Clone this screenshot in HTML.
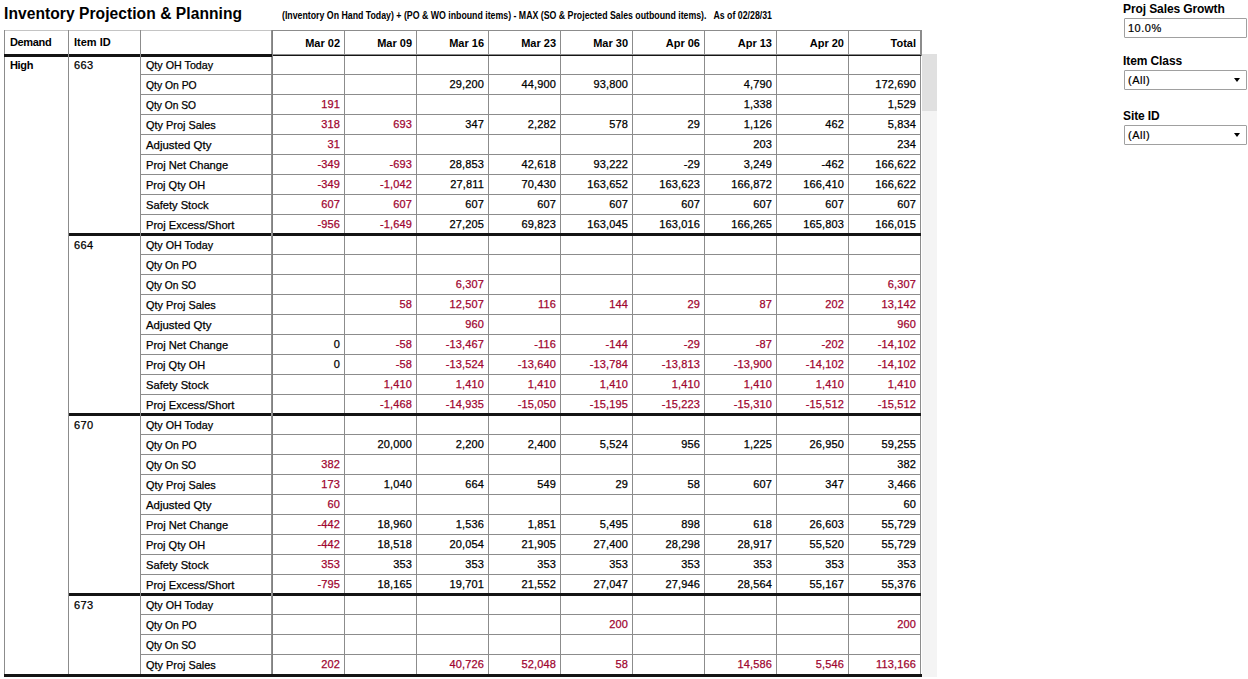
<!DOCTYPE html>
<html><head><meta charset="utf-8"><title>Inventory Projection &amp; Planning</title>
<style>
*{margin:0;padding:0;box-sizing:border-box}
html,body{width:1248px;height:679px;overflow:hidden;background:#fff}
body{position:relative;font-family:"Liberation Sans",Arial,sans-serif;color:#000}
i{position:absolute;display:block}
div{position:absolute;white-space:nowrap}
.title{left:4px;top:3px;font-size:15.6px;font-weight:bold;line-height:22px;letter-spacing:0.05px;color:#000}
.sub{left:282px;top:9px;font-size:10px;font-weight:bold;line-height:14px;color:#000;transform-origin:0 0;transform:scaleX(0.877)}
.hb{font-size:11px;font-weight:bold;line-height:23px;color:#000}
.rl{font-size:11px;line-height:19px;color:#000;-webkit-text-stroke:0.25px currentColor}
.hb2{font-weight:bold;-webkit-text-stroke:0}
.lb{letter-spacing:-0.15px}
.ns{letter-spacing:-0.35px}
.id{letter-spacing:0.4px}
.d,.dr{font-size:11px;line-height:19px;color:#000;letter-spacing:0.15px;-webkit-text-stroke:0.25px currentColor}
.dr{color:#a00530}
.flab{left:1123px;font-size:12px;font-weight:bold;line-height:16px;color:#000;letter-spacing:-0.1px}
.box{left:1124px;width:123px;height:20px;border:1px solid #a0a0a0;border-radius:1px;background:#fff;font-size:11px;line-height:18px;padding-left:3px;color:#000;letter-spacing:0.5px;-webkit-text-stroke:0.2px #000}
.arr{position:absolute;right:6px;top:7px;width:0;height:0;border-left:3.5px solid transparent;border-right:3.5px solid transparent;border-top:4px solid #000}
</style></head><body>
<div class="title">Inventory Projection &amp; Planning</div>
<div class="sub">(Inventory On Hand Today) + (PO &amp; WO inbound items) - MAX (SO &amp; Projected Sales outbound items).&nbsp;&nbsp; As of 02/28/31</div>
<i style="left:344px;top:30px;width:1px;height:644px;background:#8c8c8c"></i><i style="left:416px;top:30px;width:1px;height:644px;background:#8c8c8c"></i><i style="left:488px;top:30px;width:1px;height:644px;background:#8c8c8c"></i><i style="left:560px;top:30px;width:1px;height:644px;background:#8c8c8c"></i><i style="left:632px;top:30px;width:1px;height:644px;background:#8c8c8c"></i><i style="left:704px;top:30px;width:1px;height:644px;background:#8c8c8c"></i><i style="left:776px;top:30px;width:1px;height:644px;background:#8c8c8c"></i><i style="left:848px;top:30px;width:1px;height:644px;background:#8c8c8c"></i><i style="left:920px;top:56px;width:1px;height:618px;background:#8c8c8c"></i><i style="left:920px;top:30px;width:2px;height:26px;background:#8c8c8c"></i><i style="left:4px;top:30px;width:267px;height:1px;background:#c4c4c4"></i><i style="left:271px;top:30px;width:651px;height:1px;background:#8c8c8c"></i><i style="left:273px;top:54px;width:648px;height:1px;background:#8c8c8c"></i><i style="left:273px;top:55px;width:648px;height:1px;background:#151515"></i><i style="left:141px;top:74px;width:779px;height:1px;background:#8c8c8c"></i><i style="left:141px;top:94px;width:779px;height:1px;background:#8c8c8c"></i><i style="left:141px;top:114px;width:779px;height:1px;background:#8c8c8c"></i><i style="left:141px;top:134px;width:779px;height:1px;background:#8c8c8c"></i><i style="left:141px;top:154px;width:779px;height:1px;background:#8c8c8c"></i><i style="left:141px;top:174px;width:779px;height:1px;background:#8c8c8c"></i><i style="left:141px;top:194px;width:779px;height:1px;background:#8c8c8c"></i><i style="left:141px;top:214px;width:779px;height:1px;background:#8c8c8c"></i><i style="left:69px;top:233px;width:852px;height:3px;background:#141414"></i><i style="left:141px;top:254px;width:779px;height:1px;background:#8c8c8c"></i><i style="left:141px;top:274px;width:779px;height:1px;background:#8c8c8c"></i><i style="left:141px;top:294px;width:779px;height:1px;background:#8c8c8c"></i><i style="left:141px;top:314px;width:779px;height:1px;background:#8c8c8c"></i><i style="left:141px;top:334px;width:779px;height:1px;background:#8c8c8c"></i><i style="left:141px;top:354px;width:779px;height:1px;background:#8c8c8c"></i><i style="left:141px;top:374px;width:779px;height:1px;background:#8c8c8c"></i><i style="left:141px;top:394px;width:779px;height:1px;background:#8c8c8c"></i><i style="left:69px;top:413px;width:852px;height:3px;background:#141414"></i><i style="left:141px;top:434px;width:779px;height:1px;background:#8c8c8c"></i><i style="left:141px;top:454px;width:779px;height:1px;background:#8c8c8c"></i><i style="left:141px;top:474px;width:779px;height:1px;background:#8c8c8c"></i><i style="left:141px;top:494px;width:779px;height:1px;background:#8c8c8c"></i><i style="left:141px;top:514px;width:779px;height:1px;background:#8c8c8c"></i><i style="left:141px;top:534px;width:779px;height:1px;background:#8c8c8c"></i><i style="left:141px;top:554px;width:779px;height:1px;background:#8c8c8c"></i><i style="left:141px;top:574px;width:779px;height:1px;background:#8c8c8c"></i><i style="left:69px;top:593px;width:852px;height:3px;background:#141414"></i><i style="left:141px;top:614px;width:779px;height:1px;background:#8c8c8c"></i><i style="left:141px;top:634px;width:779px;height:1px;background:#8c8c8c"></i><i style="left:141px;top:654px;width:779px;height:1px;background:#8c8c8c"></i><i style="left:4px;top:54px;width:268px;height:3px;background:#141414"></i><i style="left:4px;top:30px;width:1px;height:644px;background:#8c8c8c"></i><i style="left:68px;top:30px;width:1px;height:644px;background:#8c8c8c"></i><i style="left:140px;top:30px;width:1px;height:644px;background:#8c8c8c"></i><i style="left:271px;top:30px;width:1px;height:644px;background:#909090"></i><i style="left:272px;top:30px;width:1px;height:644px;background:#808080"></i><i style="left:271px;top:54px;width:1px;height:3px;background:#141414"></i><i style="left:4px;top:54px;width:1px;height:3px;background:#141414"></i><i style="left:4px;top:674px;width:918px;height:3px;background:#141414"></i><i style="left:922px;top:54px;width:15px;height:623px;background:#f4f4f4"></i><i style="left:922px;top:54px;width:15px;height:57px;background:#e0e0e0"></i>
<div class="hb ns" style="left:10px;top:31px;width:60px;height:23px;text-align:left">Demand</div><div class="hb" style="left:74px;top:31px;width:70px;height:23px;text-align:left">Item ID</div><div class="hb" style="left:272px;top:32px;width:68px;height:23px;text-align:right">Mar 02</div><div class="hb" style="left:344px;top:32px;width:68px;height:23px;text-align:right">Mar 09</div><div class="hb" style="left:416px;top:32px;width:68px;height:23px;text-align:right">Mar 16</div><div class="hb" style="left:488px;top:32px;width:68px;height:23px;text-align:right">Mar 23</div><div class="hb" style="left:560px;top:32px;width:68px;height:23px;text-align:right">Mar 30</div><div class="hb" style="left:632px;top:32px;width:68px;height:23px;text-align:right">Apr 06</div><div class="hb" style="left:704px;top:32px;width:68px;height:23px;text-align:right">Apr 13</div><div class="hb" style="left:776px;top:32px;width:68px;height:23px;text-align:right">Apr 20</div><div class="hb" style="left:848px;top:32px;width:68px;height:23px;text-align:right">Total</div><div class="rl id" style="left:74px;top:56px;width:60px;height:17px;text-align:left">663</div><div class="rl" style="left:146px;top:56px;width:120px;height:19px;text-align:left"><span style="display:inline-block;transform-origin:0 50%;transform:scaleX(0.975)">Qty OH Today</span></div><div class="rl" style="left:146px;top:76px;width:120px;height:19px;text-align:left"><span style="display:inline-block;transform-origin:0 50%;transform:scaleX(0.941)">Qty On PO</span></div><div class="d" style="left:416px;top:75px;width:68px;height:19px;text-align:right">29,200</div><div class="d" style="left:488px;top:75px;width:68px;height:19px;text-align:right">44,900</div><div class="d" style="left:560px;top:75px;width:68px;height:19px;text-align:right">93,800</div><div class="d" style="left:704px;top:75px;width:68px;height:19px;text-align:right">4,790</div><div class="d" style="left:848px;top:75px;width:68px;height:19px;text-align:right">172,690</div><div class="rl" style="left:146px;top:96px;width:120px;height:19px;text-align:left"><span style="display:inline-block;transform-origin:0 50%;transform:scaleX(0.931)">Qty On SO</span></div><div class="dr" style="left:272px;top:95px;width:68px;height:19px;text-align:right">191</div><div class="d" style="left:704px;top:95px;width:68px;height:19px;text-align:right">1,338</div><div class="d" style="left:848px;top:95px;width:68px;height:19px;text-align:right">1,529</div><div class="rl" style="left:146px;top:116px;width:120px;height:19px;text-align:left"><span style="display:inline-block;transform-origin:0 50%;transform:scaleX(0.991)">Qty Proj Sales</span></div><div class="dr" style="left:272px;top:115px;width:68px;height:19px;text-align:right">318</div><div class="dr" style="left:344px;top:115px;width:68px;height:19px;text-align:right">693</div><div class="d" style="left:416px;top:115px;width:68px;height:19px;text-align:right">347</div><div class="d" style="left:488px;top:115px;width:68px;height:19px;text-align:right">2,282</div><div class="d" style="left:560px;top:115px;width:68px;height:19px;text-align:right">578</div><div class="d" style="left:632px;top:115px;width:68px;height:19px;text-align:right">29</div><div class="d" style="left:704px;top:115px;width:68px;height:19px;text-align:right">1,126</div><div class="d" style="left:776px;top:115px;width:68px;height:19px;text-align:right">462</div><div class="d" style="left:848px;top:115px;width:68px;height:19px;text-align:right">5,834</div><div class="rl" style="left:146px;top:136px;width:120px;height:19px;text-align:left"><span style="display:inline-block;transform-origin:0 50%;transform:scaleX(1.038)">Adjusted Qty</span></div><div class="dr" style="left:272px;top:135px;width:68px;height:19px;text-align:right">31</div><div class="d" style="left:704px;top:135px;width:68px;height:19px;text-align:right">203</div><div class="d" style="left:848px;top:135px;width:68px;height:19px;text-align:right">234</div><div class="rl" style="left:146px;top:156px;width:120px;height:19px;text-align:left"><span style="display:inline-block;transform-origin:0 50%;transform:scaleX(1.01)">Proj Net Change</span></div><div class="dr" style="left:272px;top:155px;width:68px;height:19px;text-align:right">-349</div><div class="dr" style="left:344px;top:155px;width:68px;height:19px;text-align:right">-693</div><div class="d" style="left:416px;top:155px;width:68px;height:19px;text-align:right">28,853</div><div class="d" style="left:488px;top:155px;width:68px;height:19px;text-align:right">42,618</div><div class="d" style="left:560px;top:155px;width:68px;height:19px;text-align:right">93,222</div><div class="d" style="left:632px;top:155px;width:68px;height:19px;text-align:right">-29</div><div class="d" style="left:704px;top:155px;width:68px;height:19px;text-align:right">3,249</div><div class="d" style="left:776px;top:155px;width:68px;height:19px;text-align:right">-462</div><div class="d" style="left:848px;top:155px;width:68px;height:19px;text-align:right">166,622</div><div class="rl" style="left:146px;top:176px;width:120px;height:19px;text-align:left"><span style="display:inline-block;transform-origin:0 50%;transform:scaleX(1.0)">Proj Qty OH</span></div><div class="dr" style="left:272px;top:175px;width:68px;height:19px;text-align:right">-349</div><div class="dr" style="left:344px;top:175px;width:68px;height:19px;text-align:right">-1,042</div><div class="d" style="left:416px;top:175px;width:68px;height:19px;text-align:right">27,811</div><div class="d" style="left:488px;top:175px;width:68px;height:19px;text-align:right">70,430</div><div class="d" style="left:560px;top:175px;width:68px;height:19px;text-align:right">163,652</div><div class="d" style="left:632px;top:175px;width:68px;height:19px;text-align:right">163,623</div><div class="d" style="left:704px;top:175px;width:68px;height:19px;text-align:right">166,872</div><div class="d" style="left:776px;top:175px;width:68px;height:19px;text-align:right">166,410</div><div class="d" style="left:848px;top:175px;width:68px;height:19px;text-align:right">166,622</div><div class="rl" style="left:146px;top:196px;width:120px;height:19px;text-align:left"><span style="display:inline-block;transform-origin:0 50%;transform:scaleX(1.013)">Safety Stock</span></div><div class="dr" style="left:272px;top:195px;width:68px;height:19px;text-align:right">607</div><div class="dr" style="left:344px;top:195px;width:68px;height:19px;text-align:right">607</div><div class="d" style="left:416px;top:195px;width:68px;height:19px;text-align:right">607</div><div class="d" style="left:488px;top:195px;width:68px;height:19px;text-align:right">607</div><div class="d" style="left:560px;top:195px;width:68px;height:19px;text-align:right">607</div><div class="d" style="left:632px;top:195px;width:68px;height:19px;text-align:right">607</div><div class="d" style="left:704px;top:195px;width:68px;height:19px;text-align:right">607</div><div class="d" style="left:776px;top:195px;width:68px;height:19px;text-align:right">607</div><div class="d" style="left:848px;top:195px;width:68px;height:19px;text-align:right">607</div><div class="rl" style="left:146px;top:216px;width:120px;height:19px;text-align:left"><span style="display:inline-block;transform-origin:0 50%;transform:scaleX(1.011)">Proj Excess/Short</span></div><div class="dr" style="left:272px;top:215px;width:68px;height:19px;text-align:right">-956</div><div class="dr" style="left:344px;top:215px;width:68px;height:19px;text-align:right">-1,649</div><div class="d" style="left:416px;top:215px;width:68px;height:19px;text-align:right">27,205</div><div class="d" style="left:488px;top:215px;width:68px;height:19px;text-align:right">69,823</div><div class="d" style="left:560px;top:215px;width:68px;height:19px;text-align:right">163,045</div><div class="d" style="left:632px;top:215px;width:68px;height:19px;text-align:right">163,016</div><div class="d" style="left:704px;top:215px;width:68px;height:19px;text-align:right">166,265</div><div class="d" style="left:776px;top:215px;width:68px;height:19px;text-align:right">165,803</div><div class="d" style="left:848px;top:215px;width:68px;height:19px;text-align:right">166,015</div><div class="rl id" style="left:74px;top:236px;width:60px;height:17px;text-align:left">664</div><div class="rl" style="left:146px;top:236px;width:120px;height:19px;text-align:left"><span style="display:inline-block;transform-origin:0 50%;transform:scaleX(0.975)">Qty OH Today</span></div><div class="rl" style="left:146px;top:256px;width:120px;height:19px;text-align:left"><span style="display:inline-block;transform-origin:0 50%;transform:scaleX(0.941)">Qty On PO</span></div><div class="rl" style="left:146px;top:276px;width:120px;height:19px;text-align:left"><span style="display:inline-block;transform-origin:0 50%;transform:scaleX(0.931)">Qty On SO</span></div><div class="dr" style="left:416px;top:275px;width:68px;height:19px;text-align:right">6,307</div><div class="dr" style="left:848px;top:275px;width:68px;height:19px;text-align:right">6,307</div><div class="rl" style="left:146px;top:296px;width:120px;height:19px;text-align:left"><span style="display:inline-block;transform-origin:0 50%;transform:scaleX(0.991)">Qty Proj Sales</span></div><div class="dr" style="left:344px;top:295px;width:68px;height:19px;text-align:right">58</div><div class="dr" style="left:416px;top:295px;width:68px;height:19px;text-align:right">12,507</div><div class="dr" style="left:488px;top:295px;width:68px;height:19px;text-align:right">116</div><div class="dr" style="left:560px;top:295px;width:68px;height:19px;text-align:right">144</div><div class="dr" style="left:632px;top:295px;width:68px;height:19px;text-align:right">29</div><div class="dr" style="left:704px;top:295px;width:68px;height:19px;text-align:right">87</div><div class="dr" style="left:776px;top:295px;width:68px;height:19px;text-align:right">202</div><div class="dr" style="left:848px;top:295px;width:68px;height:19px;text-align:right">13,142</div><div class="rl" style="left:146px;top:316px;width:120px;height:19px;text-align:left"><span style="display:inline-block;transform-origin:0 50%;transform:scaleX(1.038)">Adjusted Qty</span></div><div class="dr" style="left:416px;top:315px;width:68px;height:19px;text-align:right">960</div><div class="dr" style="left:848px;top:315px;width:68px;height:19px;text-align:right">960</div><div class="rl" style="left:146px;top:336px;width:120px;height:19px;text-align:left"><span style="display:inline-block;transform-origin:0 50%;transform:scaleX(1.01)">Proj Net Change</span></div><div class="d" style="left:272px;top:335px;width:68px;height:19px;text-align:right">0</div><div class="dr" style="left:344px;top:335px;width:68px;height:19px;text-align:right">-58</div><div class="dr" style="left:416px;top:335px;width:68px;height:19px;text-align:right">-13,467</div><div class="dr" style="left:488px;top:335px;width:68px;height:19px;text-align:right">-116</div><div class="dr" style="left:560px;top:335px;width:68px;height:19px;text-align:right">-144</div><div class="dr" style="left:632px;top:335px;width:68px;height:19px;text-align:right">-29</div><div class="dr" style="left:704px;top:335px;width:68px;height:19px;text-align:right">-87</div><div class="dr" style="left:776px;top:335px;width:68px;height:19px;text-align:right">-202</div><div class="dr" style="left:848px;top:335px;width:68px;height:19px;text-align:right">-14,102</div><div class="rl" style="left:146px;top:356px;width:120px;height:19px;text-align:left"><span style="display:inline-block;transform-origin:0 50%;transform:scaleX(1.0)">Proj Qty OH</span></div><div class="d" style="left:272px;top:355px;width:68px;height:19px;text-align:right">0</div><div class="dr" style="left:344px;top:355px;width:68px;height:19px;text-align:right">-58</div><div class="dr" style="left:416px;top:355px;width:68px;height:19px;text-align:right">-13,524</div><div class="dr" style="left:488px;top:355px;width:68px;height:19px;text-align:right">-13,640</div><div class="dr" style="left:560px;top:355px;width:68px;height:19px;text-align:right">-13,784</div><div class="dr" style="left:632px;top:355px;width:68px;height:19px;text-align:right">-13,813</div><div class="dr" style="left:704px;top:355px;width:68px;height:19px;text-align:right">-13,900</div><div class="dr" style="left:776px;top:355px;width:68px;height:19px;text-align:right">-14,102</div><div class="dr" style="left:848px;top:355px;width:68px;height:19px;text-align:right">-14,102</div><div class="rl" style="left:146px;top:376px;width:120px;height:19px;text-align:left"><span style="display:inline-block;transform-origin:0 50%;transform:scaleX(1.013)">Safety Stock</span></div><div class="dr" style="left:344px;top:375px;width:68px;height:19px;text-align:right">1,410</div><div class="dr" style="left:416px;top:375px;width:68px;height:19px;text-align:right">1,410</div><div class="dr" style="left:488px;top:375px;width:68px;height:19px;text-align:right">1,410</div><div class="dr" style="left:560px;top:375px;width:68px;height:19px;text-align:right">1,410</div><div class="dr" style="left:632px;top:375px;width:68px;height:19px;text-align:right">1,410</div><div class="dr" style="left:704px;top:375px;width:68px;height:19px;text-align:right">1,410</div><div class="dr" style="left:776px;top:375px;width:68px;height:19px;text-align:right">1,410</div><div class="dr" style="left:848px;top:375px;width:68px;height:19px;text-align:right">1,410</div><div class="rl" style="left:146px;top:396px;width:120px;height:19px;text-align:left"><span style="display:inline-block;transform-origin:0 50%;transform:scaleX(1.011)">Proj Excess/Short</span></div><div class="dr" style="left:344px;top:395px;width:68px;height:19px;text-align:right">-1,468</div><div class="dr" style="left:416px;top:395px;width:68px;height:19px;text-align:right">-14,935</div><div class="dr" style="left:488px;top:395px;width:68px;height:19px;text-align:right">-15,050</div><div class="dr" style="left:560px;top:395px;width:68px;height:19px;text-align:right">-15,195</div><div class="dr" style="left:632px;top:395px;width:68px;height:19px;text-align:right">-15,223</div><div class="dr" style="left:704px;top:395px;width:68px;height:19px;text-align:right">-15,310</div><div class="dr" style="left:776px;top:395px;width:68px;height:19px;text-align:right">-15,512</div><div class="dr" style="left:848px;top:395px;width:68px;height:19px;text-align:right">-15,512</div><div class="rl id" style="left:74px;top:416px;width:60px;height:17px;text-align:left">670</div><div class="rl" style="left:146px;top:416px;width:120px;height:19px;text-align:left"><span style="display:inline-block;transform-origin:0 50%;transform:scaleX(0.975)">Qty OH Today</span></div><div class="rl" style="left:146px;top:436px;width:120px;height:19px;text-align:left"><span style="display:inline-block;transform-origin:0 50%;transform:scaleX(0.941)">Qty On PO</span></div><div class="d" style="left:344px;top:435px;width:68px;height:19px;text-align:right">20,000</div><div class="d" style="left:416px;top:435px;width:68px;height:19px;text-align:right">2,200</div><div class="d" style="left:488px;top:435px;width:68px;height:19px;text-align:right">2,400</div><div class="d" style="left:560px;top:435px;width:68px;height:19px;text-align:right">5,524</div><div class="d" style="left:632px;top:435px;width:68px;height:19px;text-align:right">956</div><div class="d" style="left:704px;top:435px;width:68px;height:19px;text-align:right">1,225</div><div class="d" style="left:776px;top:435px;width:68px;height:19px;text-align:right">26,950</div><div class="d" style="left:848px;top:435px;width:68px;height:19px;text-align:right">59,255</div><div class="rl" style="left:146px;top:456px;width:120px;height:19px;text-align:left"><span style="display:inline-block;transform-origin:0 50%;transform:scaleX(0.931)">Qty On SO</span></div><div class="dr" style="left:272px;top:455px;width:68px;height:19px;text-align:right">382</div><div class="d" style="left:848px;top:455px;width:68px;height:19px;text-align:right">382</div><div class="rl" style="left:146px;top:476px;width:120px;height:19px;text-align:left"><span style="display:inline-block;transform-origin:0 50%;transform:scaleX(0.991)">Qty Proj Sales</span></div><div class="dr" style="left:272px;top:475px;width:68px;height:19px;text-align:right">173</div><div class="d" style="left:344px;top:475px;width:68px;height:19px;text-align:right">1,040</div><div class="d" style="left:416px;top:475px;width:68px;height:19px;text-align:right">664</div><div class="d" style="left:488px;top:475px;width:68px;height:19px;text-align:right">549</div><div class="d" style="left:560px;top:475px;width:68px;height:19px;text-align:right">29</div><div class="d" style="left:632px;top:475px;width:68px;height:19px;text-align:right">58</div><div class="d" style="left:704px;top:475px;width:68px;height:19px;text-align:right">607</div><div class="d" style="left:776px;top:475px;width:68px;height:19px;text-align:right">347</div><div class="d" style="left:848px;top:475px;width:68px;height:19px;text-align:right">3,466</div><div class="rl" style="left:146px;top:496px;width:120px;height:19px;text-align:left"><span style="display:inline-block;transform-origin:0 50%;transform:scaleX(1.038)">Adjusted Qty</span></div><div class="dr" style="left:272px;top:495px;width:68px;height:19px;text-align:right">60</div><div class="d" style="left:848px;top:495px;width:68px;height:19px;text-align:right">60</div><div class="rl" style="left:146px;top:516px;width:120px;height:19px;text-align:left"><span style="display:inline-block;transform-origin:0 50%;transform:scaleX(1.01)">Proj Net Change</span></div><div class="dr" style="left:272px;top:515px;width:68px;height:19px;text-align:right">-442</div><div class="d" style="left:344px;top:515px;width:68px;height:19px;text-align:right">18,960</div><div class="d" style="left:416px;top:515px;width:68px;height:19px;text-align:right">1,536</div><div class="d" style="left:488px;top:515px;width:68px;height:19px;text-align:right">1,851</div><div class="d" style="left:560px;top:515px;width:68px;height:19px;text-align:right">5,495</div><div class="d" style="left:632px;top:515px;width:68px;height:19px;text-align:right">898</div><div class="d" style="left:704px;top:515px;width:68px;height:19px;text-align:right">618</div><div class="d" style="left:776px;top:515px;width:68px;height:19px;text-align:right">26,603</div><div class="d" style="left:848px;top:515px;width:68px;height:19px;text-align:right">55,729</div><div class="rl" style="left:146px;top:536px;width:120px;height:19px;text-align:left"><span style="display:inline-block;transform-origin:0 50%;transform:scaleX(1.0)">Proj Qty OH</span></div><div class="dr" style="left:272px;top:535px;width:68px;height:19px;text-align:right">-442</div><div class="d" style="left:344px;top:535px;width:68px;height:19px;text-align:right">18,518</div><div class="d" style="left:416px;top:535px;width:68px;height:19px;text-align:right">20,054</div><div class="d" style="left:488px;top:535px;width:68px;height:19px;text-align:right">21,905</div><div class="d" style="left:560px;top:535px;width:68px;height:19px;text-align:right">27,400</div><div class="d" style="left:632px;top:535px;width:68px;height:19px;text-align:right">28,298</div><div class="d" style="left:704px;top:535px;width:68px;height:19px;text-align:right">28,917</div><div class="d" style="left:776px;top:535px;width:68px;height:19px;text-align:right">55,520</div><div class="d" style="left:848px;top:535px;width:68px;height:19px;text-align:right">55,729</div><div class="rl" style="left:146px;top:556px;width:120px;height:19px;text-align:left"><span style="display:inline-block;transform-origin:0 50%;transform:scaleX(1.013)">Safety Stock</span></div><div class="dr" style="left:272px;top:555px;width:68px;height:19px;text-align:right">353</div><div class="d" style="left:344px;top:555px;width:68px;height:19px;text-align:right">353</div><div class="d" style="left:416px;top:555px;width:68px;height:19px;text-align:right">353</div><div class="d" style="left:488px;top:555px;width:68px;height:19px;text-align:right">353</div><div class="d" style="left:560px;top:555px;width:68px;height:19px;text-align:right">353</div><div class="d" style="left:632px;top:555px;width:68px;height:19px;text-align:right">353</div><div class="d" style="left:704px;top:555px;width:68px;height:19px;text-align:right">353</div><div class="d" style="left:776px;top:555px;width:68px;height:19px;text-align:right">353</div><div class="d" style="left:848px;top:555px;width:68px;height:19px;text-align:right">353</div><div class="rl" style="left:146px;top:576px;width:120px;height:19px;text-align:left"><span style="display:inline-block;transform-origin:0 50%;transform:scaleX(1.011)">Proj Excess/Short</span></div><div class="dr" style="left:272px;top:575px;width:68px;height:19px;text-align:right">-795</div><div class="d" style="left:344px;top:575px;width:68px;height:19px;text-align:right">18,165</div><div class="d" style="left:416px;top:575px;width:68px;height:19px;text-align:right">19,701</div><div class="d" style="left:488px;top:575px;width:68px;height:19px;text-align:right">21,552</div><div class="d" style="left:560px;top:575px;width:68px;height:19px;text-align:right">27,047</div><div class="d" style="left:632px;top:575px;width:68px;height:19px;text-align:right">27,946</div><div class="d" style="left:704px;top:575px;width:68px;height:19px;text-align:right">28,564</div><div class="d" style="left:776px;top:575px;width:68px;height:19px;text-align:right">55,167</div><div class="d" style="left:848px;top:575px;width:68px;height:19px;text-align:right">55,376</div><div class="rl id" style="left:74px;top:596px;width:60px;height:17px;text-align:left">673</div><div class="rl" style="left:146px;top:596px;width:120px;height:19px;text-align:left"><span style="display:inline-block;transform-origin:0 50%;transform:scaleX(0.975)">Qty OH Today</span></div><div class="rl" style="left:146px;top:616px;width:120px;height:19px;text-align:left"><span style="display:inline-block;transform-origin:0 50%;transform:scaleX(0.941)">Qty On PO</span></div><div class="dr" style="left:560px;top:615px;width:68px;height:19px;text-align:right">200</div><div class="dr" style="left:848px;top:615px;width:68px;height:19px;text-align:right">200</div><div class="rl" style="left:146px;top:636px;width:120px;height:19px;text-align:left"><span style="display:inline-block;transform-origin:0 50%;transform:scaleX(0.931)">Qty On SO</span></div><div class="rl" style="left:146px;top:656px;width:120px;height:19px;text-align:left"><span style="display:inline-block;transform-origin:0 50%;transform:scaleX(0.991)">Qty Proj Sales</span></div><div class="dr" style="left:272px;top:655px;width:68px;height:19px;text-align:right">202</div><div class="dr" style="left:416px;top:655px;width:68px;height:19px;text-align:right">40,726</div><div class="dr" style="left:488px;top:655px;width:68px;height:19px;text-align:right">52,048</div><div class="dr" style="left:560px;top:655px;width:68px;height:19px;text-align:right">58</div><div class="dr" style="left:704px;top:655px;width:68px;height:19px;text-align:right">14,586</div><div class="dr" style="left:776px;top:655px;width:68px;height:19px;text-align:right">5,546</div><div class="dr" style="left:848px;top:655px;width:68px;height:19px;text-align:right">113,166</div><div class="rl hb2 ns" style="left:10px;top:56px;width:60px;height:17px;text-align:left">High</div>
<div class="flab" style="top:1px">Proj Sales Growth</div>
<div class="box" style="top:18px">10.0%</div>
<div class="flab" style="top:53px">Item Class</div>
<div class="box" style="top:70px">(All)<span class="arr"></span></div>
<div class="flab" style="top:108px">Site ID</div>
<div class="box" style="top:125px">(All)<span class="arr"></span></div>
</body></html>
